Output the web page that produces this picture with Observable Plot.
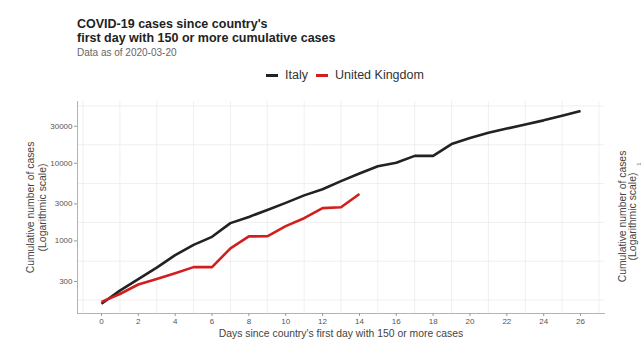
<!DOCTYPE html>
<html><head><meta charset="utf-8">
<script src="https://cdn.jsdelivr.net/npm/d3@7"></script>
<script src="https://cdn.jsdelivr.net/npm/@observablehq/plot@0.6"></script>
<style>
body{margin:0;background:#fff;font-family:"Liberation Sans",Arial,sans-serif;}
#wrap{position:relative;width:641px;height:356px;overflow:hidden;background:#fff;}
#title{position:absolute;left:77px;top:17px;font-weight:bold;font-size:12.5px;line-height:14px;color:#222;}
#sub{position:absolute;left:77px;top:47px;font-size:10px;color:#666;}
#legend{position:absolute;left:266px;top:68px;font-size:12.5px;color:#333;display:flex;align-items:center;white-space:nowrap;}
#legend .sw{display:inline-block;width:12px;height:3px;margin-right:7px;}
#legend .it{margin-right:8px;}
#chart{position:absolute;left:0;top:88px;}
</style></head><body><div id="wrap">
<div id="title">COVID-19 cases since country's<br>first day with 150 or more cumulative cases</div>
<div id="sub">Data as of 2020-03-20</div>
<div id="legend"></div>
<div id="chart"></div>
</div>
<script>
const countries = ["Italy", "United Kingdom"];
const colors = ["#222222", "#d11f1f"];
const italyCases = [155,229,322,453,655,888,1128,1694,2036,2502,3089,3858,4636,5883,7375,9172,10149,12462,12462,17660,21157,24747,27980,31506,35713,41035,47021];
const ukCases = [164,207,274,322,384,459,459,802,1144,1145,1551,1960,2642,2716,4014];
const yTicks = [300,1000,3000,10000,30000];
const yMinorGrid = [173,548,1732,5477,17321,54772];
const xTicks = [0,2,4,6,8,10,12,14,16,18,20,22,24,26];
const xMinorGrid = [-1,1,3,5,7,9,11,13,15,17,19,21,23,25,27];
const yTitle = "Cumulative number of cases\n(Logarithmic scale)";
const xTitle = "Days since country's first day with 150 or more cases";

const rows = [
  ...italyCases.map((v,i)=>({day:i, cases:v, country:countries[0]})),
  ...ukCases.map((v,i)=>({day:i, cases:v, country:countries[1]}))
];

// legend
const lg = document.getElementById("legend");
countries.forEach((c,i)=>{
  const s=document.createElement("span"); s.className="sw"; s.style.background=colors[i]; lg.appendChild(s);
  const t=document.createElement("span"); t.className="it"; t.textContent=c; lg.appendChild(t);
});

const plot = Plot.plot({
  width: 641,
  height: 268,
  marginLeft: 77,
  marginRight: 37,
  marginTop: 13,
  marginBottom: 43,
  style: {fontFamily: '"Liberation Sans", Arial, sans-serif', background: "#fff"},
  x: {domain: [-1.3, 27.3]},
  y: {type: "log", domain: [116, 62500]},
  color: {domain: countries, range: colors},
  marks: [
    Plot.gridX(xMinorGrid, {stroke: "#ebebeb", strokeOpacity: 1, strokeWidth: 0.8}),
    Plot.gridY(yMinorGrid, {stroke: "#ebebeb", strokeOpacity: 1, strokeWidth: 0.8}),
    Plot.frame({anchor: "left", stroke: "#b3b3b3"}),
    Plot.frame({anchor: "bottom", stroke: "#b3b3b3"}),
    Plot.axisX({ticks: xTicks, tickSize: 3, tickPadding: 2, fontSize: 8, color: "#555", stroke: "#999", label: null}),
    Plot.axisY({ticks: yTicks, tickSize: 3, tickPadding: 2, fontSize: 8, color: "#555", stroke: "#999", label: null, tickFormat: d => String(d)}),
    Plot.line(rows, {x: "day", y: "cases", z: "country", stroke: "country", strokeWidth: 2.6, strokeLinejoin: "round", strokeLinecap: "butt"}),
    Plot.text([xTitle], {frameAnchor: "bottom", dy: 20, lineAnchor: "middle", fontSize: 10.4, fill: "#444"}),
    Plot.text([yTitle], {frameAnchor: "left", dx: -41, rotate: -90, textAnchor: "middle", fontSize: 10.4, fill: "#444", lineHeight: 1.15}),
    Plot.text([yTitle], {frameAnchor: "right", dx: 23, dy: 9, rotate: -90, textAnchor: "middle", fontSize: 10.4, fill: "#444", lineHeight: 1.0}),
    Plot.text(["1"], {frameAnchor: "top-right", dx: 32, dy: 61, rotate: -90, fontSize: 6, fill: "#666"})
  ]
});
document.getElementById("chart").appendChild(plot);
</script>
</body></html>
